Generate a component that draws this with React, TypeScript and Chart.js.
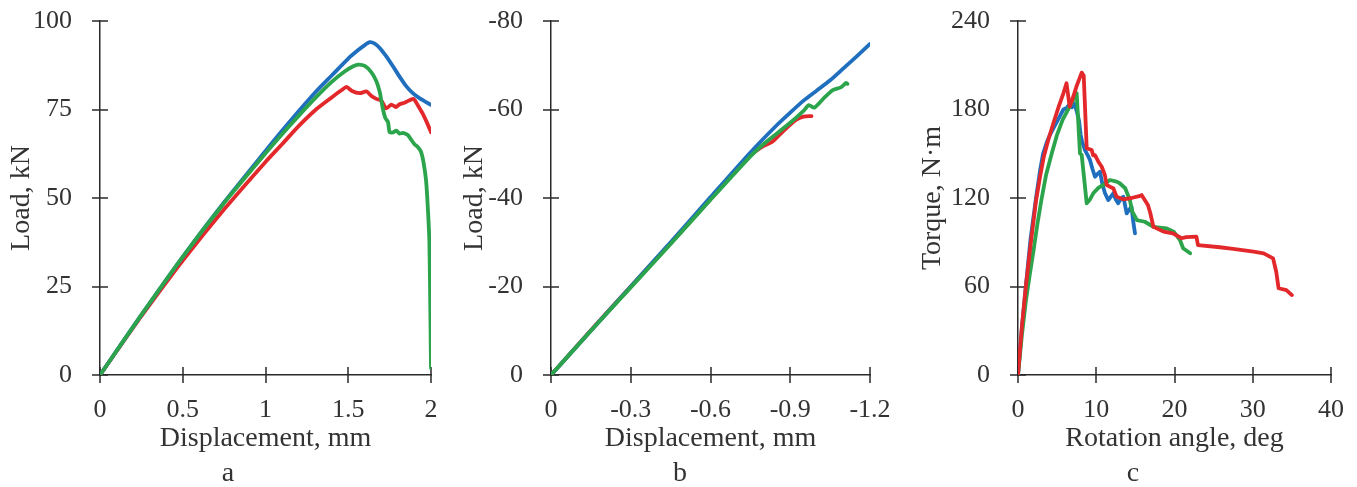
import React, { useEffect, useRef } from 'react';
import { Chart, registerables } from 'chart.js';

Chart.register(...registerables);

const FONT = '"Liberation Serif", "Times New Roman", serif';
const TEXT = '#333333';
const AXIS = '#2a2a2a';
const BLUE = '#1f6fbe';
const GREEN = '#2ba44c';
const RED = '#e3282b';
const H = 487;

// ---------- Panel a: Load vs displacement (compression) ----------
const A_X_TICKS = [0, 0.5, 1, 1.5, 2];
const A_X_LABELS = ['0', '0.5', '1', '1.5', '2'];
const A_Y_TICKS = [0, 25, 50, 75, 100];
const A_Y_LABELS = ['0', '25', '50', '75', '100'];

const A_BLUE_X = [0, 0.1, 0.25, 0.5, 0.75, 1.0, 1.1, 1.2, 1.3, 1.4, 1.5, 1.56, 1.6, 1.63, 1.66, 1.69, 1.73, 1.77, 1.81, 1.85, 1.89, 1.93, 1.97, 2.0];
const A_BLUE_Y = [0, 6.8, 17, 33.4, 48.8, 63.3, 69, 74.5, 79.8, 84.6, 89.4, 91.8, 93.2, 94, 93.6, 92.4, 90, 87.2, 84.3, 81.6, 79.6, 78.2, 77.1, 76.3];

const A_GREEN_X = [0, 0.1, 0.25, 0.5, 0.75, 1.0, 1.1, 1.2, 1.3, 1.4, 1.48, 1.53, 1.56, 1.6, 1.64, 1.67, 1.69, 1.70, 1.71, 1.725, 1.74, 1.75, 1.77, 1.79, 1.81, 1.83, 1.86, 1.88, 1.9, 1.92, 1.94, 1.955, 1.97, 1.98, 1.99, 1.995, 2.0];
const A_GREEN_Y = [0, 6.8, 17, 33.4, 48.6, 62.6, 68, 73.2, 78.2, 82.8, 85.8, 87.2, 87.7, 87.3, 85.5, 83, 80, 77.5, 75, 72.5, 71.5, 68.6, 68.5, 69, 68.2, 68.4, 67.8, 66.5, 65.2, 64.4, 63, 60, 55, 48, 38, 22, 2];

const A_RED_X = [0, 0.1, 0.25, 0.5, 0.75, 1.0, 1.1, 1.2, 1.3, 1.4, 1.46, 1.49, 1.52, 1.57, 1.61, 1.64, 1.67, 1.7, 1.73, 1.76, 1.79, 1.81, 1.84, 1.87, 1.895, 1.92, 1.95, 1.98, 2.0];
const A_RED_Y = [0, 6.7, 16.6, 32.3, 46.8, 60.2, 65.2, 70.3, 74.8, 78.4, 80.5, 81.4, 80.3, 79.6, 80.1, 78.8, 78, 77.5, 75.3, 76.4, 75.7, 76.5, 76.9, 77.6, 78, 76.2, 73.8, 70.8, 68.6];

// ---------- Panel b: Load vs displacement (tension) ----------
const B_X_TICKS = [0, -0.3, -0.6, -0.9, -1.2];
const B_X_LABELS = ['0', '-0.3', '-0.6', '-0.9', '-1.2'];
const B_Y_TICKS = [0, -20, -40, -60, -80];
const B_Y_LABELS = ['0', '-20', '-40', '-60', '-80'];

const B_BLUE_X = [0, -0.15, -0.3, -0.45, -0.6, -0.75, -0.85, -0.9, -0.95, -1.0, -1.05, -1.1, -1.15, -1.2];
const B_BLUE_Y = [0, -10, -20, -30, -40.2, -50.3, -56.5, -59.3, -62, -64.3, -66.6, -69.3, -72, -74.8];

const B_GREEN_X = [0, -0.15, -0.3, -0.45, -0.6, -0.75, -0.8, -0.85, -0.9, -0.95, -0.97, -0.99, -1.03, -1.06, -1.09, -1.11, -1.115];
const B_GREEN_Y = [0, -10, -19.8, -29.6, -39.6, -49.4, -52.2, -54.6, -57, -59.7, -61, -60.4, -62.8, -64.4, -65, -66, -65.8];

const B_RED_X = [0, -0.15, -0.3, -0.45, -0.6, -0.75, -0.8, -0.83, -0.86, -0.89, -0.92, -0.95, -0.98];
const B_RED_Y = [0, -10.1, -20, -29.8, -39.8, -49.6, -51.8, -52.6, -54.3, -56, -57.6, -58.4, -58.5];

// ---------- Panel c: Torque vs rotation angle ----------
const C_X_TICKS = [0, 10, 20, 30, 40];
const C_X_LABELS = ['0', '10', '20', '30', '40'];
const C_Y_TICKS = [0, 60, 120, 180, 240];
const C_Y_LABELS = ['0', '60', '120', '180', '240'];

const C_BLUE_X = [0, 0.5, 1.0, 1.6, 2.3, 2.8, 3.2, 3.7, 4.1, 4.6, 5.0, 5.4, 5.8, 6.2, 6.6, 6.9, 7.2, 7.5, 7.8, 8.0, 8.2, 8.56, 8.9, 9.2, 9.5, 9.84, 10.1, 10.48, 10.8, 11.12, 11.54, 12.18, 12.5, 12.8, 13.1, 13.46, 13.89, 14.2, 14.5, 14.7, 14.95];
const C_BLUE_Y = [0, 32, 60, 92, 120, 138, 150, 158, 163, 168, 172, 176, 180, 181, 183.5, 181.5, 184, 179, 172.4, 163, 158, 152.5, 149, 145.8, 140, 134.4, 136, 137.8, 129, 123.2, 118.6, 123.2, 119, 116.4, 119, 120.9, 109.6, 112, 114.1, 105, 96.1];

const C_GREEN_X = [0, 0.5, 1.0, 1.5, 2.0, 2.5, 3.0, 3.6, 4.3, 5.0, 5.7, 6.4, 7.0, 7.5, 7.92, 8.14, 8.78, 9.2, 9.62, 10.3, 10.9, 11.75, 12.6, 13.0, 13.7, 14.3, 14.6, 15.2, 16.2, 17.3, 19.0, 19.9, 20.7, 21.1, 22.0];
const C_GREEN_Y = [0, 27, 50, 68, 85, 103, 119, 136, 150, 163, 173, 180, 186, 191, 150.3, 149.2, 116.4, 119, 123.2, 127, 128.8, 132.2, 131.1, 130, 126.6, 118.6, 111, 105, 103.9, 100.5, 99.4, 97.2, 91.5, 85.9, 82.5];

const C_RED_X = [0, 0.5, 1.0, 1.6, 2.3, 2.8, 3.3, 3.9, 4.6, 5.2, 5.8, 6.2, 6.6, 6.9, 7.5, 8.14, 8.4, 8.78, 9.42, 9.6, 9.84, 10.27, 10.7, 11.1, 11.33, 11.8, 12.18, 12.6, 13.46, 14.5, 15.6, 15.8, 16.6, 16.9, 17.3, 18.6, 19.8, 20.9, 21.5, 22.8, 23.0, 25.8, 27.5, 30.1, 31.4, 32.6, 33.0, 33.3, 34.3, 35.0];
const C_RED_Y = [0, 33, 60, 88, 118, 134, 148, 160, 172, 182, 191, 197.8, 182, 186, 196, 205, 203, 153.7, 152.5, 149, 149, 144.6, 141.2, 135.6, 128.8, 127.5, 126.6, 120.9, 119.1, 120, 121.4, 122, 115.3, 110, 100.5, 97.2, 96, 92.7, 93.5, 93.8, 88.1, 86.6, 85.5, 83.6, 82.5, 79.1, 70, 58.8, 57.6, 54.2];

type Series = { x: number[]; y: number[]; color: string };
type PanelSpec = {
  left: number;
  width: number;
  area: { left: number; right: number; top: number; bottom: number };
  xMin: number; xMax: number; xReverse: boolean;
  yMin: number; yMax: number; yReverse: boolean;
  xTicks: number[]; xLabels: string[];
  yTicks: number[]; yLabels: string[];
  xTitle: string; yTitle: string;
  yTitlePad: number;
  tension: number;
  series: Series[];
};

const crossTicks = {
  id: 'crossTicks',
  beforeDatasetsDraw(chart: any) {
    const { ctx, chartArea, scales } = chart;
    const x = scales.x;
    const y = scales.y;
    ctx.save();
    ctx.strokeStyle = AXIS;
    ctx.lineWidth = 1.5;
    ctx.beginPath();
    x.ticks.forEach((t: any) => {
      const px = Math.round(x.getPixelForValue(t.value));
      ctx.moveTo(px, chartArea.bottom - 8);
      ctx.lineTo(px, chartArea.bottom + 8);
    });
    y.ticks.forEach((t: any) => {
      const py = Math.round(y.getPixelForValue(t.value));
      ctx.moveTo(chartArea.left - 8, py);
      ctx.lineTo(chartArea.left + 8, py);
    });
    ctx.stroke();
    ctx.restore();
  },
};

// Nudges the layout padding once so that the plot area lands exactly where wanted.
const pinArea = {
  id: 'pinArea',
  afterLayout(chart: any) {
    const want = chart.options.plugins.pinArea;
    if (!want || chart.$pinned) return;
    const a = chart.chartArea;
    const pad = chart.options.layout.padding;
    const dTop = want.top - a.top;
    const dRight = a.right - want.right;
    if (Math.abs(dTop) > 0.5 || Math.abs(dRight) > 0.5) {
      chart.$pinned = true;
      pad.top = Math.max(0, pad.top + dTop);
      pad.right = Math.max(0, pad.right + dRight);
      chart.update();
    }
  },
};

function Panel({ spec }: { spec: PanelSpec }) {
  const ref = useRef<HTMLCanvasElement | null>(null);
  useEffect(() => {
    if (!ref.current) return;
    const s = spec;
    const chart = new Chart(ref.current, {
      type: 'line',
      data: {
        datasets: s.series.map((ser) => ({
          data: ser.x.map((v, i) => ({ x: v, y: ser.y[i] })),
          borderColor: ser.color,
          backgroundColor: ser.color,
          borderWidth: 3.8,
          pointRadius: 0,
          tension: s.tension,
          fill: false,
          borderJoinStyle: 'round',
          borderCapStyle: 'round',
        })),
      },
      options: {
        animation: false,
        responsive: false,
        maintainAspectRatio: false,
        events: [],
        plugins: {
          legend: { display: false },
          tooltip: { enabled: false },
          pinArea: { top: s.area.top, right: s.area.right },
        },
        layout: { padding: { left: 0, top: 0, right: 0, bottom: 0 } },
        scales: {
          x: {
            type: 'linear',
            min: s.xMin,
            max: s.xMax,
            reverse: s.xReverse,
            grid: { display: false, drawTicks: false },
            border: { display: true, color: AXIS, width: 1.5 },
            afterBuildTicks: (sc: any) => {
              sc.ticks = s.xTicks.map((v) => ({ value: v }));
            },
            afterFit: (sc: any) => {
              sc.height = H - s.area.bottom;
              sc.paddingLeft = 0;
              sc.paddingRight = 0;
            },
            ticks: {
              padding: 20,
              color: TEXT,
              autoSkip: false,
              maxRotation: 0,
              font: { family: FONT, size: 26 },
              callback: (_v: any, i: number) => s.xLabels[i],
            },
            title: {
              display: true,
              text: s.xTitle,
              color: TEXT,
              font: { family: FONT, size: 28 },
              padding: { top: 0, bottom: 32 },
            },
          },
          y: {
            type: 'linear',
            min: s.yMin,
            max: s.yMax,
            reverse: s.yReverse,
            grid: { display: false, drawTicks: false },
            border: { display: true, color: AXIS, width: 1.5 },
            afterBuildTicks: (sc: any) => {
              sc.ticks = s.yTicks.map((v) => ({ value: v }));
            },
            afterFit: (sc: any) => {
              sc.width = s.area.left;
              sc.paddingTop = 0;
              sc.paddingBottom = 0;
            },
            ticks: {
              padding: 28,
              color: TEXT,
              autoSkip: false,
              font: { family: FONT, size: 26 },
              callback: (_v: any, i: number) => s.yLabels[i],
            },
            title: {
              display: true,
              text: s.yTitle,
              color: TEXT,
              font: { family: FONT, size: 28 },
              padding: { top: s.yTitlePad, bottom: 0 },
            },
          },
        },
      } as any,
      plugins: [crossTicks, pinArea],
    });
    return () => chart.destroy();
  }, [spec]);
  return (
    <canvas
      ref={ref}
      width={spec.width}
      height={H}
      style={{ position: 'absolute', left: spec.left, top: 0, width: spec.width, height: H, display: 'block' }}
    />
  );
}

const PANEL_A: PanelSpec = {
  left: 0, width: 450,
  area: { left: 100, right: 431, top: 21, bottom: 375 },
  xMin: 0, xMax: 2, xReverse: false,
  yMin: 0, yMax: 100, yReverse: false,
  xTicks: A_X_TICKS, xLabels: A_X_LABELS, yTicks: A_Y_TICKS, yLabels: A_Y_LABELS,
  xTitle: 'Displacement, mm', yTitle: 'Load, kN', yTitlePad: 5, tension: 0.2,
  series: [
    { x: A_GREEN_X, y: A_GREEN_Y, color: GREEN },
    { x: A_BLUE_X, y: A_BLUE_Y, color: BLUE },
    { x: A_RED_X, y: A_RED_Y, color: RED },
  ],
};

const PANEL_B: PanelSpec = {
  left: 450, width: 450,
  area: { left: 101, right: 420, top: 21, bottom: 375 },
  xMin: -1.2, xMax: 0, xReverse: true,
  yMin: -80, yMax: 0, yReverse: true,
  xTicks: B_X_TICKS, xLabels: B_X_LABELS, yTicks: B_Y_TICKS, yLabels: B_Y_LABELS,
  xTitle: 'Displacement, mm', yTitle: 'Load, kN', yTitlePad: 8, tension: 0.2,
  series: [
    { x: B_GREEN_X, y: B_GREEN_Y, color: GREEN },
    { x: B_BLUE_X, y: B_BLUE_Y, color: BLUE },
    { x: B_RED_X, y: B_RED_Y, color: RED },
  ],
};

const PANEL_C: PanelSpec = {
  left: 900, width: 457,
  area: { left: 118, right: 431, top: 21, bottom: 375 },
  xMin: 0, xMax: 40, xReverse: false,
  yMin: 0, yMax: 240, yReverse: false,
  xTicks: C_X_TICKS, xLabels: C_X_LABELS, yTicks: C_Y_TICKS, yLabels: C_Y_LABELS,
  xTitle: 'Rotation angle, deg', yTitle: 'Torque, N·m', yTitlePad: 16, tension: 0,
  series: [
    { x: C_RED_X, y: C_RED_Y, color: RED },
    { x: C_GREEN_X, y: C_GREEN_Y, color: GREEN },
    { x: C_BLUE_X, y: C_BLUE_Y, color: BLUE },
  ],
};

const LETTERS = [
  { text: 'a', x: 228 },
  { text: 'b', x: 680 },
  { text: 'c', x: 1133 },
];

export default function App() {
  return (
    <div style={{ position: 'fixed', left: 0, top: 0, width: 1357, height: H, background: '#ffffff', overflow: 'hidden' }}>
      <Panel spec={PANEL_A} />
      <Panel spec={PANEL_B} />
      <Panel spec={PANEL_C} />
      {LETTERS.map((l) => (
        <div
          key={l.text}
          style={{
            position: 'absolute',
            left: l.x,
            top: 472,
            transform: 'translate(-50%, -50%)',
            fontFamily: FONT,
            fontSize: 28,
            color: TEXT,
            lineHeight: 1,
          }}
        >
          {l.text}
        </div>
      ))}
    </div>
  );
}
